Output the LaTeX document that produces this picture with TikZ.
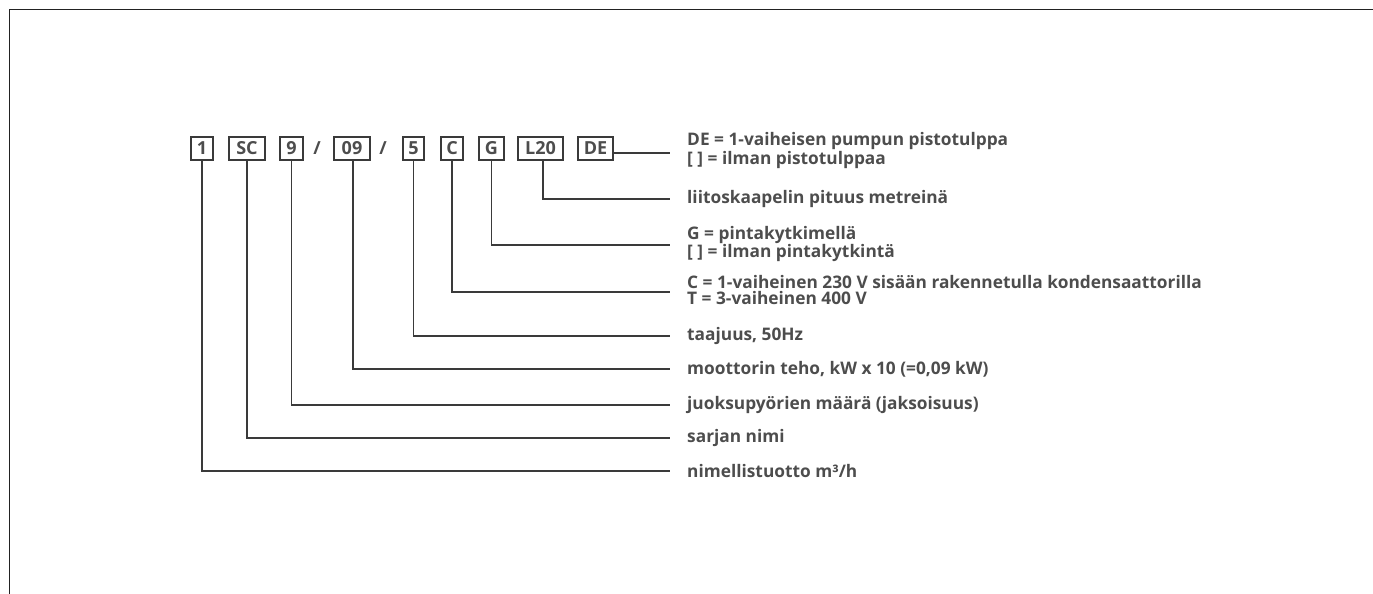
\documentclass[tikz,border=0pt]{standalone}
\usepackage{fontspec}
\setmainfont{Open Sans}
\definecolor{txtgray}{HTML}{4D4D4D}
\definecolor{linegray}{HTML}{3A3A3A}
\definecolor{framegray}{HTML}{222222}
\begin{document}
\begin{tikzpicture}[x=1pt,y=1pt,
  codebox/.style={draw=linegray, line width=1.2pt, minimum height=23pt, inner sep=0pt,
    font=\fontsize{18}{18}\selectfont\bfseries, text=txtgray},
  slashnode/.style={inner sep=0pt, font=\fontsize{18}{18}\selectfont\bfseries, text=txtgray},
  lbl/.style={anchor=west, inner sep=0pt, align=left, text=txtgray,
    font=\fontsize{17.3}{16}\selectfont\bfseries},
  conn/.style={draw=linegray, line width=1.2pt}]
\useasboundingbox (0,0) rectangle (1373,-594);
\draw[framegray, line width=1.6pt] (9.5,-594) -- (9.5,-9.5) -- (1373,-9.5);

% code boxes
\node[codebox, minimum width=22pt] (b1) at (202,-148.5) {1};
\node[codebox, minimum width=36pt] (bsc) at (247,-148.5) {SC};
\node[codebox, minimum width=23pt] (b9) at (291.5,-148.5) {9};
\node[slashnode] (s1) at (317,-148.5) {/};
\node[codebox, minimum width=36pt] (b09) at (352,-148.5) {09};
\node[slashnode] (s2) at (383,-148.5) {/};
\node[codebox, minimum width=21pt] (b5) at (413.5,-148.5) {5};
\node[codebox, minimum width=22pt] (bc) at (452,-148.5) {C};
\node[codebox, minimum width=25pt] (bg) at (491.5,-148.5) {G};
\node[codebox, minimum width=45pt] (bl) at (540.5,-148.5) {L20};
\node[codebox, minimum width=35pt] (bde) at (595.5,-148.5) {DE};

% line end coordinates
\coordinate (ede) at (670,-153);
\coordinate (el) at (670,-199);
\coordinate (eg) at (670,-245);
\coordinate (ec) at (670,-292);
\coordinate (e5) at (670,-336);
\coordinate (e09) at (670,-369);
\coordinate (e9) at (670,-405);
\coordinate (esc) at (670,-438);
\coordinate (e1) at (670,-471);

% labels
\node[lbl] (tde) at (687,-150.5) {DE = 1-vaiheisen pumpun pistotulppa\\{[ ]} = ilman pistotulppaa};
\node[lbl] (tl) at (687,-199) {liitoskaapelin pituus metreinä};
\node[lbl] (tg) at (687,-244) {G = pintakytkimellä\\{[ ]} = ilman pintakytkintä};
\node[lbl] (tc) at (687,-290.5) {C = 1-vaiheinen 230 V sisään rakennetulla kondensaattorilla\\T = 3-vaiheinen 400 V};
\node[lbl] (t5) at (687,-336) {taajuus, 50Hz};
\node[lbl] (t09) at (687,-369) {moottorin teho, kW x 10 (=0,09 kW)};
\node[lbl] (t9) at (687,-405) {juoksupyörien määrä (jaksoisuus)};
\node[lbl] (tsc) at (687,-438) {sarjan nimi};
\node[lbl] (t1) at (687,-471) {nimellistuotto m³/h};

% connectors
\draw[conn] (bde.east |- ede) -- (ede);
\draw[conn] ([xshift=2.5pt]bl.south) |- (el);
\draw[conn] (bg.south) |- (eg);
\draw[conn] (bc.south) |- (ec);
\draw[conn] (b5.south) |- (e5);
\draw[conn] ([xshift=1pt]b09.south) |- (e09);
\draw[conn] (b9.south) |- (e9);
\draw[conn] (bsc.south) |- (esc);
\draw[conn] (b1.south) |- (e1);
\end{tikzpicture}
\end{document}
